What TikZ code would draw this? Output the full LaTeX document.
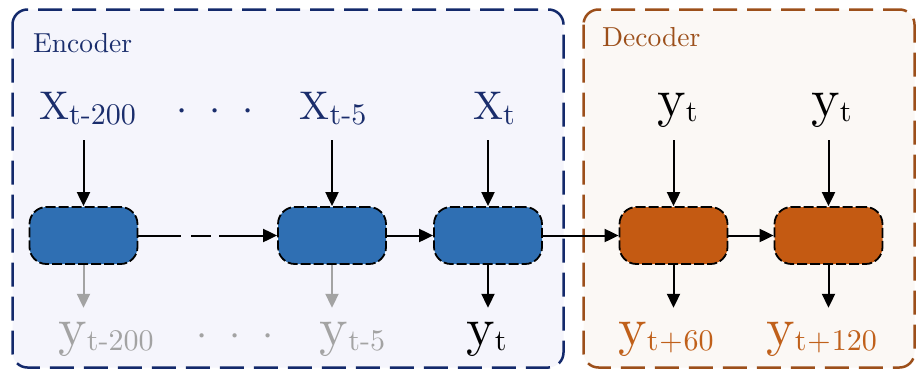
\documentclass[tikz,border=0pt]{standalone}
\usepackage{amsmath}
\usetikzlibrary{arrows.meta}
\DeclareFontFamily{TU}{lmten}{}
\DeclareFontShape{TU}{lmten}{m}{n}{<-> "[lmroman10-regular]:mapping=tex-text"}{}
\renewcommand{\rmdefault}{lmten}
\definecolor{encline}{HTML}{13296B}
\definecolor{enctext}{HTML}{1A2D6C}
\definecolor{encbg}{HTML}{F5F5FC}
\definecolor{cellblue}{HTML}{2F6FB3}
\definecolor{cellorange}{HTML}{C45A12}
\definecolor{decline}{HTML}{9C4F1A}
\definecolor{decbg}{HTML}{FBF8F5}
\definecolor{orangetext}{HTML}{C0601A}
\definecolor{greytext}{HTML}{A3A3A3}
\newcommand{\lbl}[3]{\fontsize{#1}{#1}\selectfont #2\raisebox{-5pt}{\fontsize{30}{30}\selectfont #3}}
\newcommand{\threedots}[1]{{\fontsize{40}{40}\selectfont ·\kern#1·\kern#1·}}
\tikzset{
  frame/.style={line width=2.5pt, dash pattern=on 24pt off 10pt, rounded corners=15pt},
  cell/.style={rectangle, rounded corners=17pt, minimum width=108pt, minimum height=57pt,
    inner sep=0pt, draw=black, line width=1.8pt, dash pattern=on 10pt off 3pt,
    preaction={draw=white, solid, line width=1.8pt}},
  enccell/.style={cell, fill=cellblue},
  deccell/.style={cell, fill=cellorange},
  lab/.style={inner sep=0pt, anchor=base},
  toplab/.style={lab, text depth=21pt},
  toply/.style={lab, text depth=24pt},
  botlab/.style={lab, text height=37pt},
  arr/.style={line width=2pt, -{Triangle[length=14pt,width=13pt]}},
  grayarr/.style={arr, draw=greytext},
  title/.style={inner sep=0pt, anchor=base west, font=\fontsize{27.5}{28}\selectfont}
}
\begin{document}
\begin{tikzpicture}[x=1pt,y=-1pt]
\useasboundingbox (0,0) rectangle (918,370);
% frames
\draw[frame, draw=encline, fill=encbg] (12.5,9.5) rectangle (563.5,367.5);
\draw[frame, draw=decline, fill=decbg] (583.5,9.5) rectangle (914.5,367.5);
\node[title, text=enctext] (enc) at (33,52.7) {Encoder};
\node[title, text=decline] (dec) at (602,46.5) {Decoder};
% cells
\node[enccell] (e1) at (83.5,235.5) {};
\node[enccell] (e2) at (332,235.5) {};
\node[enccell] (e3) at (488,235.5) {};
\node[deccell] (d1) at (673.5,235.5) {};
\node[deccell] (d2) at (828.5,235.5) {};
% top labels
\node[toplab, text=enctext] (x1) at (87.5,119) {\lbl{40}{X}{t-200}};
\node[lab, text=enctext] (tdots) at (215,124) {\threedots{2pt}};
\node[toplab, text=enctext] (x2) at (333,119) {\lbl{40}{X}{t-5}};
\node[toplab, text=enctext] (x3) at (494,119) {\lbl{40}{X}{t}};
\node[toply, text=black] (u1) at (677.5,116) {\lbl{54}{y}{t}};
\node[toply, text=black] (u2) at (831.5,116) {\lbl{54}{y}{t}};
% bottom labels
\node[botlab, text=greytext] (y1) at (106,345) {\lbl{54}{y}{t-200}};
\node[lab, text=greytext] (bdots) at (235,349) {\threedots{2pt}};
\node[botlab, text=greytext] (y2) at (352.5,345) {\lbl{54}{y}{t-5}};
\node[botlab, text=black] (y3) at (486.5,345) {\lbl{54}{y}{t}};
\node[botlab, text=orangetext] (y4) at (666,345) {\lbl{54}{y}{t\kern1pt+\kern1pt60}};
\node[botlab, text=orangetext] (y5) at (821.5,345) {\lbl{54}{y}{t\kern1pt+\kern1pt120}};
% input arrows
\draw[arr] (x1.south -| e1) -- (e1.north);
\draw[arr] (x2.south -| e2) -- (e2.north);
\draw[arr] (x3.south -| e3) -- (e3.north);
\draw[arr] (u1.south -| d1) -- (d1.north);
\draw[arr] (u2.south -| d2) -- (d2.north);
% output arrows
\draw[grayarr] (e1.south) -- (e1.south |- y1.north);
\draw[grayarr] (e2.south) -- (e2.south |- y2.north);
\draw[arr] (e3.south) -- (e3.south |- y3.north);
\draw[arr] (d1.south) -- (d1.south |- y4.north);
\draw[arr] (d2.south) -- (d2.south |- y5.north);
% recurrent arrows
\draw[arr, dash pattern=on 43pt off 10pt on 20pt off 8pt on 200pt] (e1.east) -- (e2.west);
\draw[arr] (e2.east) -- (e3.west);
\draw[arr] (e3.east) -- (d1.west);
\draw[arr] (d1.east) -- (d2.west);
\end{tikzpicture}
\end{document}
